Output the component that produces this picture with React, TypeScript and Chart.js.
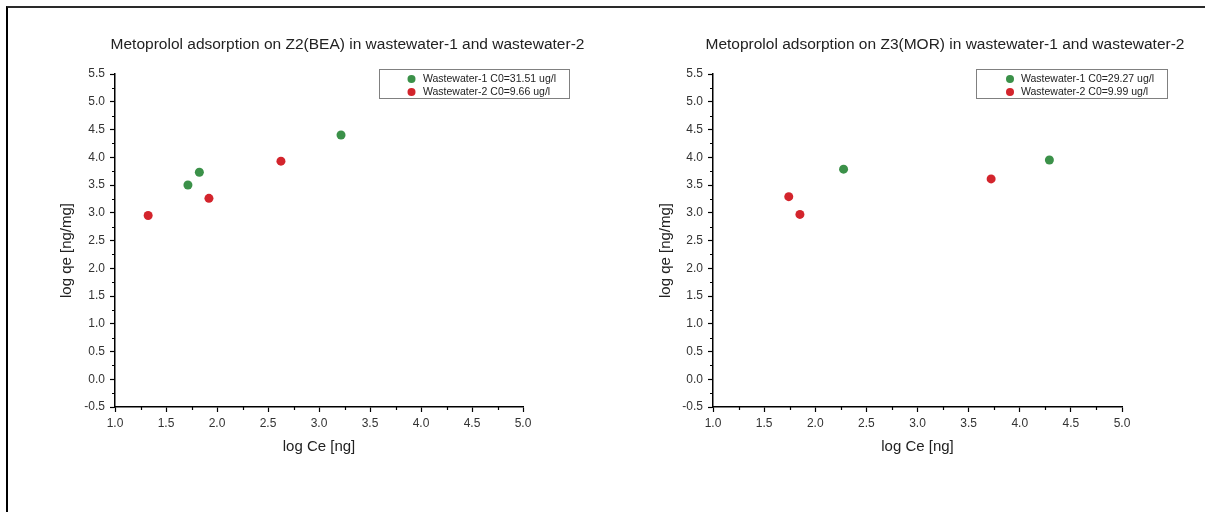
import React, { useEffect, useRef } from "react";
import { Chart, registerables } from "chart.js";

Chart.register(...registerables);

// ---------- data ----------
const xAxisTitle = "log Ce [ng]";
const yAxisTitle = "log qe [ng/mg]";
const xMin = 1.0;
const xMax = 5.0;
const yMin = -0.5;
const yMax = 5.5;
const tickStep = 0.5;

const leftTitle = "Metoprolol adsorption on Z2(BEA) in wastewater-1 and wastewater-2";
const leftW1Label = "Wastewater-1 C0=31.51 ug/l";
const leftW1X = [1.715, 1.827, 3.216];
const leftW1Y = [3.5, 3.73, 4.4];
const leftW2Label = "Wastewater-2 C0=9.66 ug/l";
const leftW2X = [1.325, 1.921, 2.627];
const leftW2Y = [2.95, 3.26, 3.93];

const rightTitle = "Metoprolol adsorption on Z3(MOR) in wastewater-1 and wastewater-2";
const rightW1Label = "Wastewater-1 C0=29.27 ug/l";
const rightW1X = [2.277, 4.29];
const rightW1Y = [3.785, 3.95];
const rightW2Label = "Wastewater-2 C0=9.99 ug/l";
const rightW2X = [1.741, 1.85, 3.72];
const rightW2Y = [3.29, 2.97, 3.61];

const GREEN = "#3b9149";
const RED = "#d3242c";
const FONT = "'Liberation Sans', Arial, Helvetica, sans-serif";

type Panel = {
  title: string;
  w1Label: string; w1X: number[]; w1Y: number[];
  w2Label: string; w2X: number[]; w2Y: number[];
  width: number;
  areaLeft: number; areaRight: number;
  titleX: number;
  legendX: number; legendW: number; markerX: number; textX: number;
  yTitleX: number;
};

const panels: Panel[] = [
  {
    title: leftTitle,
    w1Label: leftW1Label, w1X: leftW1X, w1Y: leftW1Y,
    w2Label: leftW2Label, w2X: leftW2X, w2Y: leftW2Y,
    width: 600, areaLeft: 115, areaRight: 523,
    titleX: 347.5,
    legendX: 379.5, legendW: 190, markerX: 411.5, textX: 423,
    yTitleX: 67,
  },
  {
    title: rightTitle,
    w1Label: rightW1Label, w1X: rightW1X, w1Y: rightW1Y,
    w2Label: rightW2Label, w2X: rightW2X, w2Y: rightW2Y,
    width: 605, areaLeft: 113, areaRight: 522,
    titleX: 345,
    legendX: 376.5, legendW: 191, markerX: 410, textX: 421,
    yTitleX: 66,
  },
];

const HEIGHT = 512;
const AREA_TOP = 74;
const AREA_BOTTOM = 407;

function pts(xs: number[], ys: number[]) {
  return xs.map((x, i) => ({ x, y: ys[i] }));
}

const decorPlugin = {
  id: "decor",
  afterDraw(chart: any, _args: any, opts: any) {
    const ctx = chart.ctx;
    const p: Panel = opts.panel;
    ctx.save();
    // minor ticks
    const xs = chart.scales.x;
    const ys = chart.scales.y;
    ctx.strokeStyle = "#000";
    ctx.lineWidth = 1.2;
    ctx.beginPath();
    for (let v = xMin + tickStep / 2; v < xMax; v += tickStep) {
      const px = Math.round(xs.getPixelForValue(v)) + 0.5;
      ctx.moveTo(px, chart.chartArea.bottom);
      ctx.lineTo(px, chart.chartArea.bottom + 3);
    }
    for (let v = yMin + tickStep / 2; v < yMax; v += tickStep) {
      const py = Math.round(ys.getPixelForValue(v)) + 0.5;
      ctx.moveTo(chart.chartArea.left, py);
      ctx.lineTo(chart.chartArea.left - 3, py);
    }
    ctx.stroke();

    // title
    ctx.fillStyle = "#222";
    ctx.font = `15.5px ${FONT}`;
    ctx.textAlign = "center";
    ctx.textBaseline = "middle";
    ctx.fillText(p.title, p.titleX, 44.5);

    // y axis title
    ctx.save();
    ctx.translate(p.yTitleX, (AREA_TOP + AREA_BOTTOM) / 2 + 10);
    ctx.rotate(-Math.PI / 2);
    ctx.font = `15px ${FONT}`;
    ctx.fillText(yAxisTitle, 0, 0);
    ctx.restore();

    // legend
    ctx.strokeStyle = "#808080";
    ctx.lineWidth = 1;
    ctx.strokeRect(p.legendX, 69.5, p.legendW, 29);
    const rows = [79, 92];
    chart.data.datasets.forEach((ds: any, i: number) => {
      ctx.fillStyle = ds.backgroundColor;
      ctx.beginPath();
      ctx.arc(p.markerX, rows[i], 4, 0, Math.PI * 2);
      ctx.fill();
      ctx.fillStyle = "#222";
      ctx.font = `10.5px ${FONT}`;
      ctx.textAlign = "left";
      ctx.textBaseline = "middle";
      ctx.fillText(ds.label, p.textX, rows[i] + 0.5);
    });
    ctx.restore();
  },
};

function ChartPanel({ panel, left }: { panel: Panel; left: number }) {
  const ref = useRef<HTMLCanvasElement | null>(null);
  useEffect(() => {
    if (!ref.current) return;
    const chart = new Chart(ref.current, {
      type: "scatter",
      data: {
        datasets: [
          {
            label: panel.w1Label,
            data: pts(panel.w1X, panel.w1Y),
            backgroundColor: GREEN,
            borderColor: GREEN,
            borderWidth: 0,
            pointRadius: 4.5,
          },
          {
            label: panel.w2Label,
            data: pts(panel.w2X, panel.w2Y),
            backgroundColor: RED,
            borderColor: RED,
            borderWidth: 0,
            pointRadius: 4.5,
          },
        ],
      },
      options: {
        responsive: false,
        animation: false,
        devicePixelRatio: 1,
        layout: {
          padding: { left: 0, top: AREA_TOP, right: panel.width - panel.areaRight, bottom: 0 },
        },
        plugins: {
          legend: { display: false },
          title: { display: false },
          tooltip: { enabled: false },
          decor: { panel },
        } as any,
        scales: {
          x: {
            type: "linear",
            min: xMin,
            max: xMax,
            afterFit(scale: any) {
              scale.height = HEIGHT - AREA_BOTTOM;
            },
            border: { display: true, color: "#000", width: 1.5 },
            grid: {
              display: true,
              drawOnChartArea: false,
              drawTicks: true,
              tickLength: 5,
              tickColor: "#000",
              tickWidth: 1.2,
            },
            ticks: {
              stepSize: tickStep,
              autoSkip: false,
              maxRotation: 0,
              padding: 4,
              color: "#333",
              font: { family: FONT, size: 12 },
              callback: (v: any) => Number(v).toFixed(1),
            },
            title: {
              display: true,
              text: xAxisTitle,
              color: "#222",
              font: { family: FONT, size: 15 },
              padding: { top: 0, bottom: 56 },
            },
          },
          y: {
            type: "linear",
            min: yMin,
            max: yMax,
            afterFit(scale: any) {
              scale.width = panel.areaLeft;
            },
            border: { display: true, color: "#000", width: 1.5 },
            grid: {
              display: true,
              drawOnChartArea: false,
              drawTicks: true,
              tickLength: 5,
              tickColor: "#000",
              tickWidth: 1.2,
            },
            ticks: {
              stepSize: tickStep,
              autoSkip: false,
              padding: 5,
              color: "#333",
              font: { family: FONT, size: 12 },
              callback: (v: any) => Number(v).toFixed(1),
            },
          },
        },
      } as any,
      plugins: [decorPlugin],
    });
    return () => chart.destroy();
  }, [panel]);

  return (
    <canvas
      ref={ref}
      width={panel.width}
      height={HEIGHT}
      style={{ position: "absolute", left, top: 0, width: panel.width, height: HEIGHT, display: "block" }}
    />
  );
}

export default function App() {
  return (
    <div
      style={{
        position: "fixed",
        left: 0,
        top: 0,
        width: 1205,
        height: HEIGHT,
        background: "#fff",
        overflow: "hidden",
      }}
    >
      <ChartPanel panel={panels[0]} left={0} />
      <ChartPanel panel={panels[1]} left={600} />
      <div
        style={{
          position: "absolute",
          left: 6,
          top: 6,
          width: 1205 - 6,
          height: HEIGHT - 6,
          borderTop: "2px solid #2a2a2a",
          borderLeft: "2px solid #000",
          boxSizing: "border-box",
          pointerEvents: "none",
        }}
      />
    </div>
  );
}
